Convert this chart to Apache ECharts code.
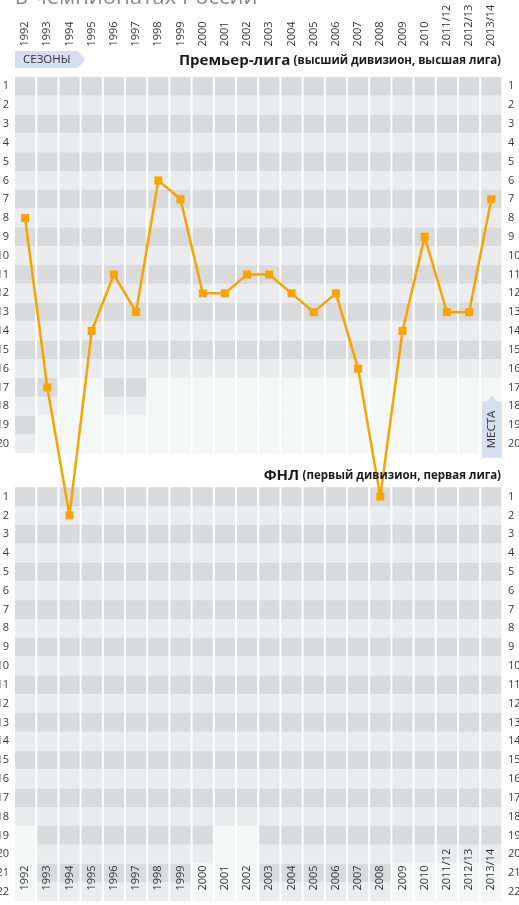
<!DOCTYPE html>
<html><head><meta charset="utf-8">
<script src="https://cdn.jsdelivr.net/npm/echarts@6/dist/echarts.min.js"></script>
<style>html,body{margin:0;padding:0;background:#fff}#c{width:519px;height:905px}</style>
</head><body><div id="c"></div>
<script>
// ---- data ----
const seasons = ['1992','1993','1994','1995','1996','1997','1998','1999','2000','2001','2002','2003','2004','2005','2006','2007','2008','2009','2010','2011/12','2012/13','2013/14'];
// place in Premier league (null = played in FNL that season)
const premierPlace = [8,17,null,14,11,13,6,7,12,12,11,11,12,13,12,16,null,14,9,13,13,7];
// place in FNL (null = played in Premier league)
const fnlPlace = [null,null,2,null,null,null,null,null,null,null,null,null,null,null,null,null,1,null,null,null,null,null];
// number of clubs in each division per season
const premierTeams = [20,18,16,16,18,18,16,16,16,16,16,16,16,16,16,16,16,16,16,16,16,16];
const fnlTeams = [18,22,22,22,22,22,22,22,20,18,18,22,22,22,22,22,22,20,20,20,20,20];
const premierRowLabels = Array.from({length:20},(_,i)=>i+1);
const fnlRowLabels = Array.from({length:22},(_,i)=>i+1);

// ---- layout ----
const FNL_OFFSET = 21.8;   // axis units between the two division blocks
const FONT = '"Open Sans", "Noto Sans", sans-serif';
const DARK = '#d9dadc', LIGHT = '#ebeced', EMPTY = '#f5f6f6';
const ORANGE = '#f6a400', BOXBLUE = '#d5dff0';

const cells = [];
seasons.forEach((s, i) => {
  premierRowLabels.forEach(r => cells.push([i, r, r <= premierTeams[i] ? (r % 2 ? 0 : 1) : 2]));
  fnlRowLabels.forEach(r => cells.push([i, r + FNL_OFFSET, r <= fnlTeams[i] ? (r % 2 ? 0 : 1) : 2]));
});
const cellColors = [DARK, LIGHT, EMPTY];

const rowLabels = [];
premierRowLabels.forEach(r => rowLabels.push([0, r, r]));
fnlRowLabels.forEach(r => rowLabels.push([0, r + FNL_OFFSET, r]));

const lineData = seasons.map((s, i) => premierPlace[i] != null ? premierPlace[i] : fnlPlace[i] + FNL_OFFSET);

const chart = echarts.init(document.getElementById('c'), null, {renderer: 'canvas'});
chart.setOption({
  animation: false,
  backgroundColor: '#fff',
  grid: {left: 14, right: 16.6, top: 67.5, height: 845.5, containLabel: false},
  xAxis: [
    {type: 'category', data: seasons, position: 'top', offset: 17, z: 10,
     axisLine: {show: false}, axisTick: {show: false}, splitLine: {show: false},
     axisLabel: {rotate: 90, margin: 4, interval: 0, fontSize: 11, color: '#333', fontFamily: FONT}},
    {type: 'category', data: seasons, position: 'bottom', offset: -16.5, z: 10,
     axisLine: {show: false}, axisTick: {show: false}, splitLine: {show: false},
     axisLabel: {rotate: 90, margin: 2, align: 'left', interval: 0, fontSize: 11, color: '#333', fontFamily: FONT}}
  ],
  yAxis: {type: 'value', inverse: true, min: 0, max: 44.5, show: false},
  series: [
    {type: 'custom', xAxisIndex: 0, z: 1, silent: true, data: cells,
     renderItem(params, api) {
       const c = api.coord([api.value(0), api.value(1)]);
       const sz = api.size([1, 1]);
       return {type: 'rect', shape: {x: c[0] - sz[0] / 2 + 1, y: c[1] - sz[1] / 2, width: sz[0] - 2, height: sz[1]},
               style: {fill: cellColors[api.value(2)]}};
     }},
    {type: 'custom', xAxisIndex: 0, z: 3, silent: true, data: rowLabels,
     renderItem(params, api) {
       const v = api.value(1);
       const l = api.coord([0, v]);
       const r = api.coord([seasons.length - 1, v]);
       const bw = api.size([1, 0])[0];
       const t = String(api.value(2));
       return {type: 'group', children: [
         {type: 'text', style: {text: t, x: l[0] - bw / 2 - 5, y: l[1], align: 'right', verticalAlign: 'middle', fontSize: 11, fontFamily: FONT, fill: '#3a3a3a'}},
         {type: 'text', style: {text: t, x: r[0] + bw / 2 + 5.5, y: r[1], align: 'left', verticalAlign: 'middle', fontSize: 11, fontFamily: FONT, fill: '#3a3a3a'}}
       ]};
     }},
    {type: 'line', xAxisIndex: 0, z: 5, data: lineData, symbol: 'rect', symbolSize: 8,
     lineStyle: {color: ORANGE, width: 2.5}, itemStyle: {color: ORANGE}}
  ],
  graphic: [
    {type: 'text', z: 100, style: {text: 'в чемпионатах России', x: 15, y: -2, verticalAlign: 'middle', fontSize: 22, fontFamily: FONT, fill: '#8a8a8a'}},
    {type: 'polygon', z: 100, shape: {points: [[15, 51], [78, 51], [85, 59.5], [78, 68], [15, 68]]}, style: {fill: BOXBLUE}},
    {type: 'text', z: 101, style: {text: 'СЕЗОНЫ', x: 23, y: 59.5, verticalAlign: 'middle', fontSize: 11.5, fontFamily: FONT, fill: '#333'}},
    {type: 'text', z: 100, style: {text: '{a|Премьер-лига} {b|(высший дивизион, высшая лига)}', x: 501, y: 61, align: 'right', verticalAlign: 'middle',
      rich: {a: {fontSize: 15, fontWeight: 'bold', fontFamily: FONT, fill: '#1a1a1a', color: '#1a1a1a'},
             b: {fontSize: 11.5, fontWeight: 'bold', fontFamily: FONT, fill: '#1a1a1a', color: '#1a1a1a'}}}},
    {type: 'text', z: 100, style: {text: '{a|ФНЛ} {b|(первый дивизион, первая лига)}', x: 501, y: 476, align: 'right', verticalAlign: 'middle',
      rich: {a: {fontSize: 15, fontWeight: 'bold', fontFamily: FONT, fill: '#1a1a1a', color: '#1a1a1a'},
             b: {fontSize: 11.5, fontWeight: 'bold', fontFamily: FONT, fill: '#1a1a1a', color: '#1a1a1a'}}}},
    {type: 'polygon', z: 100, shape: {points: [[482, 401.5], [487, 401.5], [491.8, 395.5], [496.6, 401.5], [501.8, 401.5], [501.8, 458], [482, 458]]}, style: {fill: BOXBLUE}},
    {type: 'text', z: 101, x: 491.8, y: 429.5, rotation: Math.PI / 2, style: {text: 'МЕСТА', x: 0, y: 0, align: 'center', verticalAlign: 'middle', fontSize: 11.5, fontFamily: FONT, fill: '#333'}}
  ]
});
</script>
</body></html>
